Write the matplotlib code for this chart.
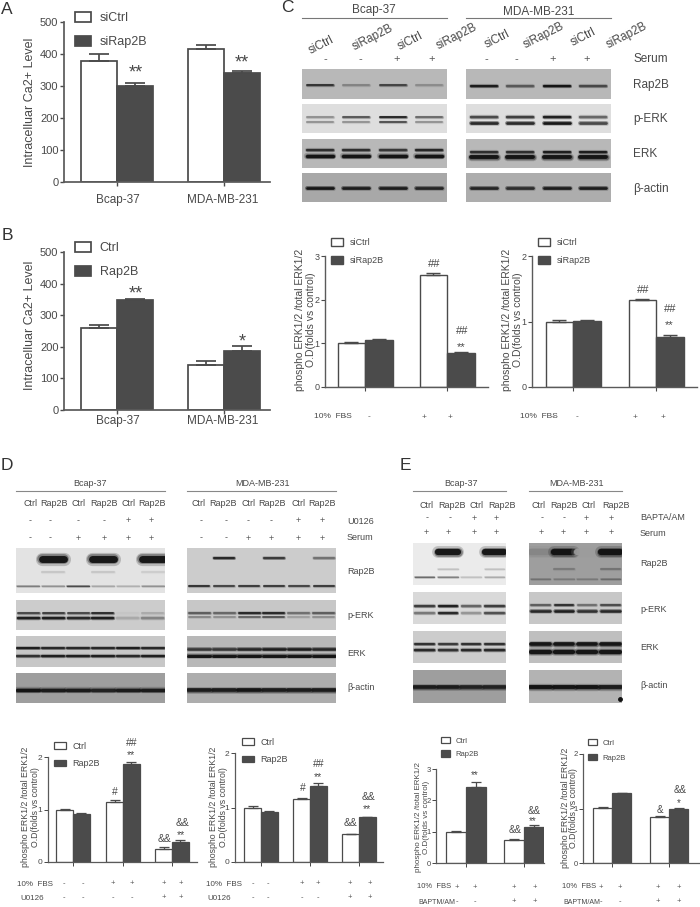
import matplotlib
matplotlib.use("Agg")
from matplotlib import pyplot as plt
from matplotlib import font_manager

plt.rcParams["font.family"] = ["Liberation Sans", "DejaVu Sans"]

W, H = 700, 907
TXT = "#484848"
DARK = "#4b4b4b"
EDGE = "#4a4a4a"

names = set(f.name for f in font_manager.fontManager.ttflist)
HAS_NARROW = "Liberation Sans Narrow" in names
NARROW = "Liberation Sans Narrow" if HAS_NARROW else "Liberation Sans"
NSIZE = 8 if HAS_NARROW else 6.5

# panel A / B values
cells = ["Bcap-37", "MDA-MB-231"]
a_ctrl, a_ctrl_err = [378, 415], [22, 14]
a_case, a_case_err = [300, 341], [9, 7]
b_ctrl, b_ctrl_err = [258, 142], [12, 14]
b_case, b_case_err = [348, 188], [3, 15]

# panel C quantification
c1_ctrl, c1_ctrl_err = [1.01, 2.57], [0.02, 0.05]
c1_case, c1_case_err = [1.07, 0.78], [0.02, 0.03]
c2_ctrl, c2_ctrl_err = [1.00, 1.33], [0.02, 0.02]
c2_case, c2_case_err = [1.01, 0.76], [0.01, 0.04]

# panel D quantification
d1_ctrl, d1_ctrl_err = [1.00, 1.15, 0.25], [0.01, 0.04, 0.03]
d1_case, d1_case_err = [0.92, 1.86, 0.39], [0.01, 0.05, 0.02]
d2_ctrl, d2_ctrl_err = [1.00, 1.15, 0.51], [0.02, 0.03, 0.01]
d2_case, d2_case_err = [0.92, 1.40, 0.82], [0.01, 0.05, 0.01]

# panel E quantification
e1_ctrl, e1_ctrl_err = [1.00, 0.74], [0.01, 0.02]
e1_case, e1_case_err = [2.44, 1.16], [0.14, 0.04]
e2_ctrl, e2_ctrl_err = [1.01, 0.85], [0.02, 0.02]
e2_case, e2_case_err = [1.28, 0.99], [0.01, 0.02]

# blot band darkness per lane, read by eye (0 = no band, 1 = black)
c_rap_l = [0.85, 0.35, 0.75, 0.3]
c_rap_r = [0.95, 0.6, 1.0, 0.7]
c_perk_l_up = [0.4, 0.7, 0.95, 0.6]
c_perk_l_lo = [0.4, 0.4, 0.75, 0.4]
c_perk_r_up = [0.75, 0.8, 0.95, 0.6]
c_perk_r_lo = [0.9, 0.9, 1.0, 0.75]
c_erk_l_up = [0.85, 0.85, 0.8, 0.9]
c_erk_r_up = [0.85, 0.85, 0.95, 0.95]
c_erk_lo = [1.0, 1.0, 1.0, 1.0]
c_act_l = [1.0, 0.95, 0.95, 0.9]
c_act_r = [0.9, 0.85, 0.95, 0.95]

d_rap_l_top = [0, 1, 0, 1, 0, 1]
d_rap_l_mid = [0, 0.15, 0, 0.15, 0, 0.12]
d_rap_l_lo = [0.5, 0.4, 0.75, 0.3, 0.25, 0.4]
d_rap_r_top = [0, 0.9, 0, 0.8, 0, 0.5]
d_rap_r_lo = [0.9, 0.8, 0.85, 0.85, 0.8, 0.85]
d_perk_l_up = [0.75, 0.8, 0.75, 0.9, 0.05, 0.2]
d_perk_l_lo = [0.95, 0.95, 0.9, 0.95, 0.2, 0.4]
d_perk_r_up = [0.6, 0.55, 0.9, 0.9, 0.5, 0.6]
d_perk_r_lo = [0.4, 0.35, 0.6, 0.7, 0.25, 0.35]
d_erk_l_up = [0.95, 0.9, 0.9, 0.9, 0.95, 0.9]
d_erk_l_lo = [0.85, 0.95, 0.95, 0.95, 0.9, 0.95]
d_erk_r_up = [0.8, 0.8, 0.9, 0.95, 0.95, 0.9]
d_erk_r_lo = [1.0, 1.0, 1.0, 1.0, 1.0, 1.0]
d_act_l = [1.0, 0.95, 0.95, 0.9, 0.95, 0.95]
d_act_r = [0.95, 0.95, 1.0, 0.95, 0.95, 0.95]

e_rap_l_top = [0, 1, 0, 1]
e_rap_l_mid = [0, 0.2, 0, 0.2]
e_rap_l_lo = [0.6, 0.5, 0.2, 0.3]
e_rap_r_top = [0.2, 1, 0.05, 1]
e_rap_r_mid = [0, 0.3, 0, 0.35]
e_rap_r_lo = [0.35, 0.3, 0.3, 0.4]
e_perk_l_up = [0.8, 0.95, 0.6, 0.8]
e_perk_l_lo = [0.5, 0.9, 0.35, 0.7]
e_perk_r_up = [0.6, 0.85, 0.5, 0.7]
e_perk_r_lo = [0.9, 0.95, 0.85, 0.9]
e_erk_l_up = [0.85, 0.8, 0.85, 0.85]
e_erk_l_lo = [0.9, 0.85, 0.9, 0.9]
e_erk_r_up = [1.0, 1.0, 1.0, 1.0]
e_erk_r_lo = [1.0, 1.0, 1.0, 1.0]
e_act_l = [0.95, 0.95, 0.9, 0.9]
e_act_r = [1.0, 1.0, 1.0, 0.95]

fig = plt.figure(figsize=(W / 100, H / 100), dpi=100)

# full-figure axes in pixel coordinates for the loose labels
ov = fig.add_axes([0, 0, 1, 1], zorder=5)
ov.set_xlim(0, W)
ov.set_ylim(H, 0)
ov.axis("off")


def px_axes(l, t, r, b):
    return fig.add_axes([l / W, 1 - b / H, (r - l) / W, (b - t) / H])


def label(x, y, s, size=8, ha="center", va="center", **kw):
    kw.setdefault("color", TXT)
    ov.text(x, y, s, fontsize=size, ha=ha, va=va, **kw)


def narrow(x, y, s, ha="center", size=None):
    label(x, y, s, size=size or NSIZE, ha=ha, family=[NARROW, "DejaVu Sans"])


def bar_panel(box, ymax, yticks, centers, w, ctrl, ctrl_err, case, case_err,
              names, swatch, lw=0.9, tick_size=6.5, leg_size=6.5):
    l, t, r, b = box
    ax = px_axes(l, t, r, b)
    ax.set_xlim(l, r)
    ax.set_ylim(0, ymax)
    x1 = [c - w / 2 for c in centers]
    x2 = [c + w / 2 for c in centers]
    ax.bar(x1, ctrl, w, color="white", edgecolor=EDGE, linewidth=lw, label=names[0])
    ax.bar(x2, case, w, color=DARK, edgecolor=DARK, linewidth=lw, label=names[1])
    cap = 0.27 * w * 0.72
    ax.errorbar(x1, ctrl, yerr=[[0] * len(ctrl), ctrl_err], fmt="none", ecolor=EDGE,
                elinewidth=lw, capsize=cap, capthick=lw)
    ax.errorbar(x2, case, yerr=[[0] * len(case), case_err], fmt="none", ecolor=EDGE,
                elinewidth=lw, capsize=cap, capthick=lw)
    ax.set_yticks(yticks)
    ax.set_xticks(centers)
    ax.set_xticklabels([])
    ax.tick_params(axis="y", labelsize=tick_size, labelcolor=TXT, color=EDGE,
                   length=3, width=lw * 0.8, pad=1)
    ax.tick_params(axis="x", color=EDGE, length=3, width=lw * 0.8)
    for s in ["top", "right"]:
        ax.spines[s].set_visible(False)
    for s in ["left", "bottom"]:
        ax.spines[s].set_color("#5a5a5a")
        ax.spines[s].set_linewidth(lw)
    sx, sy, hw, hh, gap = swatch
    ax.legend(loc="upper left", bbox_to_anchor=(sx / W, 1 - sy / H),
              bbox_transform=fig.transFigure, frameon=False, fontsize=leg_size,
              labelcolor=TXT, handlelength=hw / leg_size / (100 / 72),
              handleheight=hh / leg_size / (100 / 72),
              labelspacing=gap, borderpad=0, borderaxespad=0, handletextpad=0.7)
    return ax


def blot(box, bg, bands, lane_pad=0.14):
    l, t, r, b = box
    ax = px_axes(l, t, r, b)
    n = len(bands[0][2])
    ax.set_xlim(-0.5, n - 0.5)
    ax.set_ylim(1, 0)
    ax.set_xticks([])
    ax.set_yticks([])
    ax.set_facecolor(str(bg))
    for s in ax.spines.values():
        s.set_visible(False)
    for y, thick, vals in bands:
        for i, v in enumerate(vals):
            if v <= 0:
                continue
            shade = str(round(bg * (1 - v) * 0.95 + 0.05, 3))
            half = 0.5 - lane_pad
            for grow, alpha in [(1.9, 0.2), (1.4, 0.35), (1.0, 0.9)]:
                ax.plot([i - half, i + half], [y, y], color=shade, lw=thick * grow,
                        alpha=alpha, solid_capstyle="round")
    return ax


def sign_row(xs, signs, y, size=7, narrow_text=False):
    for x, s in zip(xs, signs):
        label(x, y, s, size=size, color="#555555")


# panel letters
for x, y, s in [(7, 9, "A"), (7, 236, "B"), (287, 8, "C"), (7, 466, "D"), (405, 466, "E")]:
    label(x, y, s, size=12.5, color="#333333")

# A and B
bar_panel((64, 22, 270, 182), 500, [0, 100, 200, 300, 400, 500], [117, 224], 35.7,
          a_ctrl, a_ctrl_err, a_case, a_case_err, ["siCtrl", "siRap2B"],
          (75, 12, 16, 10, 0.95), lw=1.25, tick_size=8, leg_size=9)
bar_panel((64, 252, 270, 410), 500, [0, 100, 200, 300, 400, 500], [117, 224], 35.7,
          b_ctrl, b_ctrl_err, b_case, b_case_err, ["Ctrl", "Rap2B"],
          (75, 242, 16, 10, 0.95), lw=1.25, tick_size=8, leg_size=9)
for y, yl in [(200, 102), (421, 325)]:
    label(118, y, cells[0], size=8.5, fontweight="normal")
    label(223, y, cells[1], size=8.5)
    label(30, yl, "Intracelluar Ca2+ Level", size=9, rotation=90)
for x, y, s in [(136, 70, "**"), (242, 60, "**"), (136, 291, "**"), (242, 339, "*")]:
    label(x, y + 3, s, size=13)

# C header
label(374, 10, cells[0], size=8.5)
label(539, 12, cells[1], size=8.5)
ov.plot([302, 447], [18, 18], color="#777777", lw=0.8)
ov.plot([466, 611], [18, 18], color="#777777", lw=0.8)
c_names = ["siCtrl", "siRap2B"] * 4
c_name_x = [321, 373, 410, 457, 497, 544, 583, 627]
c_name_y = [45, 38, 41, 37, 39, 36, 37, 36]
for x, y, s in zip(c_name_x, c_name_y, c_names):
    label(x, y, s, size=8.5, rotation=27)
sign_row([325, 360, 397, 432, 486, 516, 553, 587], "--++--++", 59, size=8)
label(633, 59, "Serum", size=8.5, ha="left")
c_rows = [(69, 99), (104, 133), (139, 168), (173, 202)]
c_cols = [(302, 447), (466, 611)]
for y, s in zip([85, 119, 154, 189], ["Rap2B", "p-ERK", "ERK", "β-actin"]):
    label(633, y, s, size=8.5, ha="left")

blot((302, 69, 447, 99), 0.72, [(0.53, 1.3, c_rap_l)])
blot((466, 69, 611, 99), 0.72, [(0.57, 1.6, c_rap_r)])
blot((302, 104, 447, 133), 0.87, [(0.45, 1.3, c_perk_l_up), (0.62, 1.2, c_perk_l_lo)])
blot((466, 104, 611, 133), 0.87, [(0.45, 1.7, c_perk_r_up), (0.65, 1.9, c_perk_r_lo)])
blot((302, 139, 447, 168), 0.72, [(0.38, 1.6, c_erk_l_up), (0.59, 2.4, c_erk_lo)])
blot((466, 139, 611, 168), 0.72, [(0.44, 1.6, c_erk_r_up), (0.61, 2.8, c_erk_lo)])
blot((302, 173, 447, 202), 0.66, [(0.52, 1.9, c_act_l)])
blot((466, 173, 611, 202), 0.68, [(0.52, 1.9, c_act_r)])

# C bars
ylab1 = "phospho ERK1/2 /total ERK1/2"
ylab2 = "O.D(folds vs control)"
bar_panel((325, 256, 488, 387), 3, [0, 1, 2, 3], [365, 447], 27.5,
          c1_ctrl, c1_ctrl_err, c1_case, c1_case_err, ["siCtrl", "siRap2B"],
          (331, 238, 12, 8, 1.0), lw=1.0)
bar_panel((532, 256, 697, 387), 2, [0, 1, 2], [573, 656], 27.5,
          c2_ctrl, c2_ctrl_err, c2_case, c2_case_err, ["siCtrl", "siRap2B"],
          (538, 238, 12, 8, 1.0), lw=1.0)

for x1, x2, y, sz in [(300, 311, 320, 7.5), (507, 518, 320, 7.5)]:
    label(x1, y, ylab1, size=sz, rotation=90)
    label(x2, y, ylab2, size=sz, rotation=90)
for x, y, s in [(434, 264, "##"), (462, 331, "##"), (461, 347, "**"),
                (643, 290, "##"), (670, 309, "##"), (669, 325, "**")]:
    label(x, y, s, size=8)
label(314, 417, "10%  FBS", size=6, ha="left")
label(520, 417, "10%  FBS", size=6, ha="left")
sign_row([345, 369, 424, 450], "--++", 417, size=6)
sign_row([553, 577, 635, 663], "--++", 417, size=6)

# D header
narrow(90, 483, cells[0])
narrow(262, 483, cells[1])
ov.plot([16, 165], [491, 491], color="#888888", lw=0.8)
ov.plot([187, 336], [491, 491], color="#888888", lw=0.8)
d_lanes = ["Ctrl", "Rap2B"] * 6
d_lane_x = [30, 54, 79, 104, 129, 152, 198, 223, 248, 272, 298, 322]
for x, s in zip(d_lane_x, d_lanes):
    narrow(x, 504, s)
sign_row([30, 50, 78, 104, 128, 151, 201, 226, 248, 271, 298, 322], "----++----++", 521, size=6.5)
sign_row([30, 50, 78, 104, 128, 151, 201, 226, 248, 271, 298, 322], "--++++--++++", 538, size=6.5)
narrow(347, 521, "U0126", ha="left")
narrow(347, 538, "Serum", ha="left")
for y, s in zip([571, 616, 654, 688], ["Rap2B", "p-ERK", "ERK", "β-actin"]):
    narrow(347, y, s, ha="left")

blot((16, 548, 165, 593), 0.89, [(0.24, 5.0, d_rap_l_top), (0.53, 1.2, d_rap_l_mid), (0.84, 1.0, d_rap_l_lo)], 0.06)
blot((187, 548, 336, 593), 0.80, [(0.22, 1.5, d_rap_r_top), (0.84, 1.2, d_rap_r_lo)], 0.1)
blot((16, 600, 165, 630), 0.80, [(0.43, 1.3, d_perk_l_up), (0.60, 1.7, d_perk_l_lo)], 0.08)
blot((187, 600, 336, 630), 0.78, [(0.42, 1.4, d_perk_r_up), (0.58, 1.1, d_perk_r_lo)], 0.08)
blot((16, 636, 165, 667), 0.78, [(0.40, 1.5, d_erk_l_up), (0.63, 1.6, d_erk_l_lo)], 0.06)
blot((187, 636, 336, 667), 0.72, [(0.42, 1.8, d_erk_r_up), (0.65, 2.1, d_erk_r_lo)], 0.06)
blot((16, 673, 165, 703), 0.62, [(0.57, 2.4, d_act_l)], 0.06)
blot((187, 673, 336, 703), 0.68, [(0.57, 2.6, d_act_r)], 0.06)

# D bars
bar_panel((48, 757, 197, 862), 2, [0, 1, 2], [73, 123, 172], 16.7,
          d1_ctrl, d1_ctrl_err, d1_case, d1_case_err, ["Ctrl", "Rap2B"],
          (54, 742, 12, 7, 0.9), lw=0.9, tick_size=6)
bar_panel((235, 753, 383, 862), 2, [0, 1, 2], [261, 310, 359], 16.7,
          d2_ctrl, d2_ctrl_err, d2_case, d2_case_err, ["Ctrl", "Rap2B"],
          (242, 738, 12, 7, 0.9), lw=0.9, tick_size=6)
for x1, x2, y in [(26, 35, 807), (213, 223, 807)]:
    label(x1, y, ylab1, size=6.3, rotation=90)
    label(x2, y, ylab2, size=6.3, rotation=90)
for x, y, s in [(132, 743, "##"), (131, 755, "**"), (115, 792, "#"), (165, 839, "&&"),
                (182, 823, "&&"), (181, 835, "**"), (319, 764, "##"), (318, 777, "**"),
                (303, 788, "#"), (351, 823, "&&"), (368, 797, "&&"), (367, 809, "**")]:
    label(x, y, s, size=7.5)
label(17, 884, "10%  FBS", size=5.8, ha="left")
label(20, 898, "U0126", size=5.8, ha="left")
label(206, 884, "10%  FBS", size=5.8, ha="left")
label(207, 898, "U0126", size=5.8, ha="left")
sign_row([64, 83, 113, 132, 164, 181], "--++++", 884, size=5.5)
sign_row([64, 83, 113, 132, 164, 181], "----++", 898, size=5.5)
sign_row([253, 268, 302, 318, 350, 370], "--++++", 884, size=5.5)
sign_row([253, 268, 302, 318, 350, 370], "----++", 898, size=5.5)

# E header
narrow(461, 483, cells[0])
narrow(577, 483, cells[1])
ov.plot([413, 506], [491, 491], color="#888888", lw=0.8)
ov.plot([529, 622], [491, 491], color="#888888", lw=0.8)
e_lanes = ["Ctrl", "Rap2B"] * 4
e_lane_x = [427, 452, 477, 502, 539, 564, 589, 616]
for x, s in zip(e_lane_x, e_lanes):
    narrow(x, 505, s)
sign_row([427, 450, 474, 496, 542, 564, 586, 611], "--++--++", 518, size=6.5)
sign_row([426, 448, 474, 496, 541, 563, 586, 611], "++++++++", 533, size=6.5)
narrow(640, 518, "BAPTA/AM", ha="left")
narrow(640, 533, "Serum", ha="left")
for y, s in zip([564, 609, 647, 686], ["Rap2B", "p-ERK", "ERK", "β-actin"]):
    narrow(640, y, s, ha="left")

blot((413, 543, 506, 585), 0.92, [(0.22, 4.5, e_rap_l_top), (0.62, 1.0, e_rap_l_mid), (0.80, 1.0, e_rap_l_lo)], 0.08)
blot((529, 543, 622, 585), 0.62, [(0.22, 4.5, e_rap_r_top), (0.62, 1.2, e_rap_r_mid), (0.85, 1.0, e_rap_r_lo)], 0.08)
blot((413, 592, 506, 624), 0.85, [(0.43, 1.6, e_perk_l_up), (0.66, 1.6, e_perk_l_lo)], 0.1)
blot((529, 592, 622, 624), 0.78, [(0.40, 1.4, e_perk_r_up), (0.58, 1.8, e_perk_r_lo)], 0.1)
blot((413, 631, 506, 663), 0.80, [(0.42, 1.5, e_erk_l_up), (0.58, 1.7, e_erk_l_lo)], 0.1)
blot((529, 631, 622, 663), 0.75, [(0.42, 2.6, e_erk_r_up), (0.65, 3.0, e_erk_r_lo)], 0.1)
blot((413, 670, 506, 703), 0.62, [(0.52, 2.6, e_act_l)], 0.06)
blot((529, 670, 622, 703), 0.70, [(0.52, 2.8, e_act_r)], 0.06)
ov.plot([620], [699], "o", color="#111111", ms=2.5)

# E bars
bar_panel((436, 769, 544, 863), 3, [0, 1, 2, 3], [466, 524], 19.6,
          e1_ctrl, e1_ctrl_err, e1_case, e1_case_err, ["Ctrl", "Rap2B"],
          (441, 737, 9, 7, 0.7), lw=0.9, tick_size=5.5, leg_size=5.5)
bar_panel((583, 754, 699, 863), 2, [0, 1, 2], [612, 669], 19,
          e2_ctrl, e2_ctrl_err, e2_case, e2_case_err, ["Ctrl", "Rap2B"],
          (588, 739, 9, 7, 0.9), lw=0.9, tick_size=5.5, leg_size=5.5)
for x1, x2, y, sz in [(419, 427, 817, 5.8), (565, 573, 808, 6.3)]:
    label(x1, y, ylab1, size=sz, rotation=90)
    label(x2, y, ylab2, size=sz, rotation=90)
for x, y, s in [(475, 775, "**"), (515, 830, "&&"), (534, 811, "&&"), (533, 821, "**"),
                (680, 790, "&&"), (679, 803, "*"), (660, 810, "&")]:
    label(x, y, s, size=7)
label(417, 887, "10%  FBS", size=5.5, ha="left")
label(418, 902, "BAPTM/AM", size=5, ha="left")
label(562, 887, "10%  FBS", size=5.5, ha="left")
label(563, 902, "BAPTM/AM", size=5, ha="left")
sign_row([457, 475, 514, 535], "++++", 887, size=5.5)
sign_row([457, 475, 514, 535], "--++", 902, size=5.5)
sign_row([601, 620, 658, 679], "++++", 887, size=5.5)
sign_row([601, 620, 658, 679], "--++", 902, size=5.5)

fig.savefig("out.png", dpi=100)
